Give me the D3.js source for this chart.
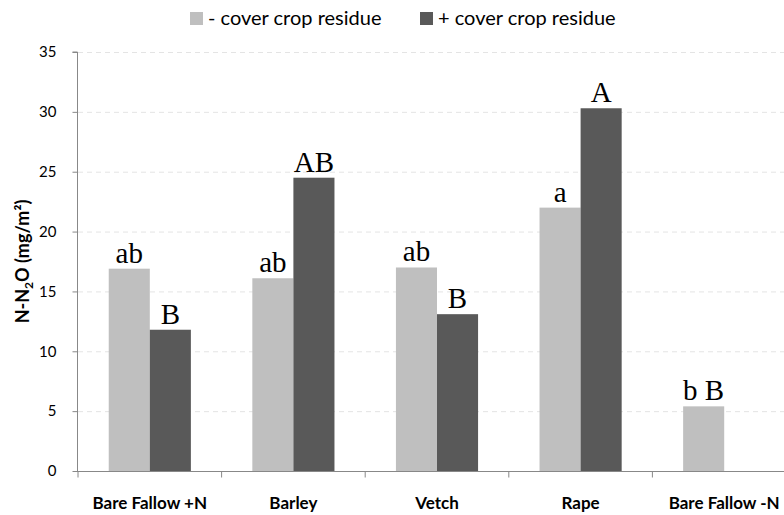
<!DOCTYPE html>
<html>
<head>
<meta charset="utf-8">
<script src="https://cdn.jsdelivr.net/npm/d3@7"></script>
<style>
  body { margin: 0; background: #fff; }
  svg { display: block; }
</style>
</head>
<body>
<div id="chart"></div>
<script>
var categories = ["Bare Fallow +N", "Barley", "Vetch", "Rape", "Bare Fallow -N"];
var withoutResidue = [16.9, 16.1, 17.0, 22.0, 5.4];
var withResidue = [11.8, 24.5, 13.1, 30.3, null];
var lettersWithout = ["ab", "ab", "ab", "a", "b B"];
var lettersWith = ["B", "AB", "B", "A", ""];
var seriesNames = ["- cover crop residue", "+ cover crop residue"];
var yTicks = [0, 5, 10, 15, 20, 25, 30, 35];

var width = 784, height = 515;
var margin = { top: 52, right: -12, bottom: 44, left: 78 };
var colors = ["#bfbfbf", "#595959"];
var labelFont = "Lato, 'Open Sans', sans-serif";

var svg = d3.select("#chart").append("svg").attr("width", width).attr("height", height);

var x = d3.scaleBand(categories, [margin.left, width - margin.right]).paddingInner(0).paddingOuter(0);
var y = d3.scaleLinear([0, 35], [height - margin.bottom, margin.top]);
var barW = x.bandwidth() * 0.286;

// gridlines
svg.append("g")
  .selectAll("line")
  .data(yTicks.filter(function (d) { return d > 0; }))
  .join("line")
  .attr("x1", margin.left)
  .attr("x2", width)
  .attr("y1", function (d) { return y(d) + 0.5; })
  .attr("y2", function (d) { return y(d) + 0.5; })
  .attr("stroke", "#e4e4e4")
  .attr("stroke-dasharray", "5,4");

var rows = categories.map(function (c, i) {
  return { cat: c, i: i, vals: [withoutResidue[i], withResidue[i]], letters: [lettersWithout[i], lettersWith[i]] };
});

var bars = [];
rows.forEach(function (r) {
  r.vals.forEach(function (v, k) {
    if (v != null) bars.push({ cat: r.cat, k: k, value: v, letter: r.letters[k] });
  });
});

function barX(d) {
  return x(d.cat) + x.bandwidth() / 2 + (d.k === 0 ? -barW : 0);
}

svg.append("g")
  .selectAll("rect")
  .data(bars)
  .join("rect")
  .attr("x", barX)
  .attr("y", function (d) { return y(d.value); })
  .attr("width", barW)
  .attr("height", function (d) { return y(0) - y(d.value); })
  .attr("fill", function (d) { return colors[d.k]; });

// significance letters
svg.append("g")
  .attr("font-family", "'Liberation Serif', 'Times New Roman', serif")
  .attr("font-size", 29)
  .attr("text-anchor", "middle")
  .selectAll("text")
  .data(bars.filter(function (d) { return d.letter; }))
  .join("text")
  .attr("x", function (d) { return barX(d) + barW / 2; })
  .attr("y", function (d) { return y(d.value) - 6; })
  .text(function (d) { return d.letter; });

// y axis
var yAxis = svg.append("g")
  .attr("transform", "translate(" + (margin.left - 0.5) + ",0)")
  .call(d3.axisLeft(y).tickValues(yTicks).tickSize(5).tickPadding(16));
yAxis.select(".domain").attr("stroke", "#888").attr("d", "M-5," + y(35) + "H0V" + y(0));
yAxis.selectAll(".tick line").attr("stroke", "#888");
yAxis.selectAll(".tick text").attr("font-family", labelFont).attr("font-size", 15).attr("fill", "#000");

// x axis
var xAxis = svg.append("g")
  .attr("transform", "translate(0," + (y(0) + 0.5) + ")");
xAxis.append("line")
  .attr("x1", margin.left - 5).attr("x2", width)
  .attr("stroke", "#888");
xAxis.selectAll(".sep")
  .data(categories)
  .join("line")
  .attr("class", "sep")
  .attr("x1", function (d) { return x(d); })
  .attr("x2", function (d) { return x(d); })
  .attr("y1", 0).attr("y2", 6)
  .attr("stroke", "#888");
xAxis.selectAll("text")
  .data(categories)
  .join("text")
  .attr("x", function (d) { return x(d) + x.bandwidth() / 2; })
  .attr("y", 37)
  .attr("text-anchor", "middle")
  .attr("font-family", labelFont)
  .attr("font-weight", "bold")
  .attr("font-size", 17)
  .text(function (d) { return d; });

// y axis title
svg.append("text")
  .attr("transform", "translate(29," + (y(17.5)) + ") rotate(-90)")
  .attr("text-anchor", "middle")
  .attr("font-family", labelFont)
  .attr("font-weight", "bold")
  .attr("font-size", 18)
  .call(function (t) {
    t.append("tspan").text("N-N");
    t.append("tspan").attr("font-size", 12).attr("dy", 4).text("2");
    t.append("tspan").attr("dy", -4).text("O (mg/m²)");
  });

// legend
var legend = svg.append("g")
  .attr("font-family", labelFont)
  .attr("font-size", 20)
  .selectAll("g")
  .data(seriesNames)
  .join("g")
  .attr("transform", function (d, i) { return "translate(" + (190 + i * 230) + ",12)"; });
legend.append("rect").attr("width", 13).attr("height", 13).attr("fill", function (d, i) { return colors[i]; });
legend.append("text").attr("x", 18).attr("y", 13).text(function (d) { return d; });
</script>
</body>
</html>
